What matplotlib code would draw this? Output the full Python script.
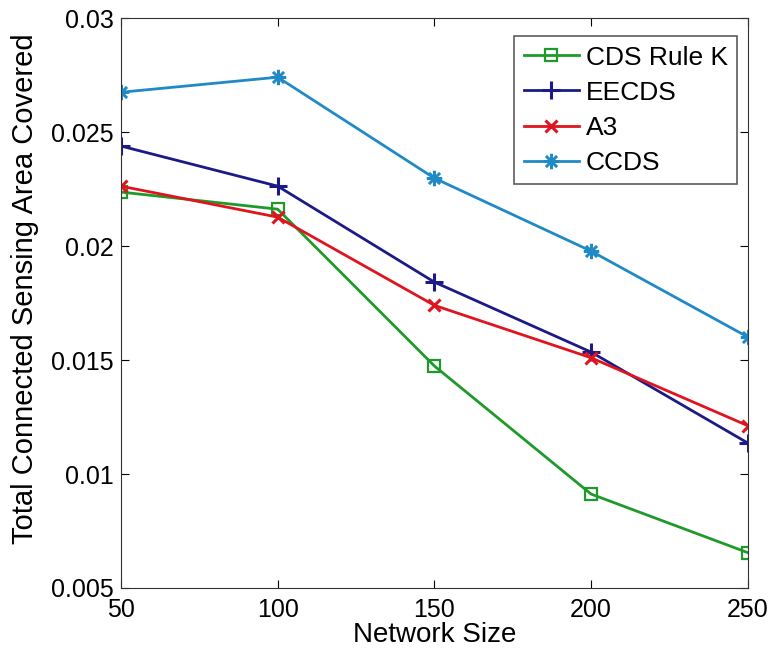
import matplotlib
matplotlib.use('Agg')
import matplotlib.pyplot as plt

plt.rcParams['font.family'] = ['Liberation Sans', 'DejaVu Sans']

# network sizes
sizes = [50, 100, 150, 200, 250]

# total connected sensing area covered, per algorithm
cds_rule_k = [0.02237, 0.02162, 0.01474, 0.00912, 0.00655]
eecds = [0.02439, 0.02263, 0.01842, 0.01535, 0.01136]
a3 = [0.02263, 0.02127, 0.01740, 0.01510, 0.01212]
ccds = [0.02675, 0.02741, 0.02298, 0.01978, 0.01601]

fig = plt.figure(figsize=(7.72, 6.49), dpi=100)
ax = fig.add_axes([0.1567, 0.094, 0.812, 0.878])

ax.plot(sizes, cds_rule_k, color='#1f9a2a', marker='s', markersize=9,
        markerfacecolor='none', markeredgewidth=1.6, linewidth=2, label='CDS Rule K')
ax.plot(sizes, eecds, color='#1c1a86', marker='+', markersize=13,
        markeredgewidth=2.2, linewidth=2, label='EECDS')
ax.plot(sizes, a3, color='#e0141e', marker='x', markersize=8,
        markeredgewidth=2.2, linewidth=2, label='A3')
ax.plot(sizes, ccds, color='#1f8ac6', marker=(8, 2, 0), markersize=11,
        markeredgewidth=1.8, linewidth=2, label='CCDS')

ax.set_xlim(50, 250)
ax.set_ylim(0.005, 0.03)
ax.set_xticks([50, 100, 150, 200, 250])
ax.set_yticks([0.005, 0.01, 0.015, 0.02, 0.025, 0.03])
ax.set_yticklabels(['0.005', '0.01', '0.015', '0.02', '0.025', '0.03'])
ax.tick_params(direction='in', labelsize=18, length=6, top=True, right=True)
ax.tick_params(axis='x', pad=7)
ax.tick_params(axis='y', pad=5)
for s in ax.spines.values():
    s.set_color('#333333')
ax.set_xlabel('Network Size', fontsize=20, labelpad=0)
ax.set_ylabel('Total Connected Sensing Area Covered', fontsize=21)
ax.yaxis.set_label_coords(-0.13, 0.526)

leg = ax.legend(loc='upper right', bbox_to_anchor=(0.9825, 0.968), borderaxespad=0,
                fontsize=19, fancybox=False, edgecolor='#333333',
                handlelength=2.1, handletextpad=0.25, labelspacing=0.42,
                borderpad=0.35)
leg.get_frame().set_linewidth(1.2)

plt.savefig('out.png', dpi=100)
